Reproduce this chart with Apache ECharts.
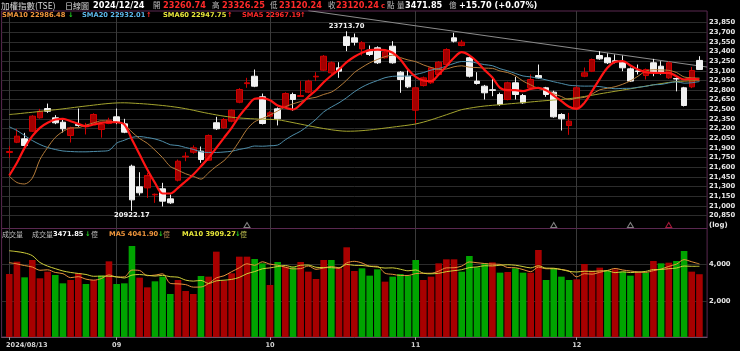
<!DOCTYPE html>
<html><head><meta charset="utf-8">
<script src="https://cdn.jsdelivr.net/npm/echarts@6/dist/echarts.min.js"></script>
<style>html,body{margin:0;padding:0;background:#000;}#c{width:740px;height:351px;}</style>
</head><body><div id="c"></div>
<script>
const dates = [
'2024/08/13','2024/08/14','2024/08/15','2024/08/16','2024/08/19','2024/08/20','2024/08/21','2024/08/22','2024/08/23','2024/08/26','2024/08/27','2024/08/28','2024/08/29','2024/08/30',
'2024/09/02','2024/09/03','2024/09/04','2024/09/05','2024/09/06','2024/09/09','2024/09/10','2024/09/11','2024/09/12','2024/09/13','2024/09/16','2024/09/18','2024/09/19','2024/09/20','2024/09/23','2024/09/24','2024/09/25','2024/09/26','2024/09/27','2024/09/30',
'2024/10/01','2024/10/04','2024/10/07','2024/10/08','2024/10/09','2024/10/11','2024/10/14','2024/10/15','2024/10/16','2024/10/17','2024/10/18','2024/10/21','2024/10/22','2024/10/23','2024/10/24','2024/10/25','2024/10/28','2024/10/29','2024/10/30',
'2024/11/01','2024/11/04','2024/11/05','2024/11/06','2024/11/07','2024/11/08','2024/11/11','2024/11/12','2024/11/13','2024/11/14','2024/11/15','2024/11/18','2024/11/19','2024/11/20','2024/11/21','2024/11/22','2024/11/25','2024/11/26','2024/11/27','2024/11/28','2024/11/29',
'2024/12/02','2024/12/03','2024/12/04','2024/12/05','2024/12/06','2024/12/09','2024/12/10','2024/12/11','2024/12/12','2024/12/13','2024/12/16','2024/12/17','2024/12/18','2024/12/19','2024/12/20','2024/12/23','2024/12/24'];

const opens = [21830,21989,22042,22160,22369,22513,22369,22300,22094,22265,
 22230,22291,22188,22280,22384,22275,21616,21296,21280,21170,
 21265,21109,21399,21760,21834,21850,21710,22292,22213,22316,
 22611,22900,23015,22695,22394,22508,22549,22731,22700,22767,
 23005,23109,23068,23146,23628,23612,23441,23420,23457,23302,
 23482,23078,23015,22487,22870,22913,23042,23197,23612,23493,
 23302,22939,22860,22805,22731,22653,22913,22715,22835,23026,
 22835,22767,22420,22249,22524,23015,23093,23337,23302,23255,
 23233,23130,23098,23026,23224,23171,22990,22980,22835,22850,
 23260.74];
const closes = [21845,22083,21938,22394,22471,22471,22291,22198,22213,22250,
 22245,22420,22265,22331,22300,22145,21093,21203,21472,21180,
 21073,21047,21694,21772,21902,21720,22094,22198,22342,22487,
 22808,22913,22860,22280,22446,22353,22746,22653,22715,22939,
 23015,23326,23224,23093,23493,23544,23535,23353,23224,23389,
 23224,22964,22850,22835,22990,23146,23233,23430,23560,23544,
 23015,22902,22757,22795,22575,22913,22731,22602,22964,22990,
 22731,22384,22353,22316,22835,23068,23275,23285,23224,23245,
 23146,22939,23088,23119,23078,23057,23224,22972,22560,23104.54,
 23120.24];
const lows = [21747,21975,21920,22150,22355,22445,22270,22140,21985,22229,
 22110,22280,22060,22270,22270,22130,20922.17,21161,21124,21047,
 20990,21030,21380,21694,21810,21669,21700,22180,22200,22300,
 22595,22835,22845,22265,22380,22250,22535,22480,22695,22750,
 22939,23095,23050,22990,23405,23493,23337,23330,23205,23290,
 23210,22757,22830,22280,22855,22895,23030,23180,23540,23480,
 22995,22885,22653,22705,22555,22640,22653,22585,22820,22975,
 22695,22370,22171,22104,22510,23000,23080,23270,23205,23215,
 23093,22925,23042,22964,23015,23040,22975,22780,22545,22830,
 23120.24];
const highs = [21927,22198,22135,22410,22508,22590,22410,22342,22230,22513,
 22290,22440,22290,22370,22513,22353,21640,21523,21513,21192,
 21358,21176,21720,21834,21940,21922,22110,22384,22365,22500,
 22830,22990,23119,22746,22470,22530,22765,22760,22939,22960,
 23078,23345,23245,23233,23713.70,23679,23560,23493,23480,23410,
 23560,23095,23109,22850,23010,23160,23250,23450,23690,23580,
 23320,23078,22880,22975,22760,22930,23006,22740,23042,23197,
 22850,22790,22440,22446,22870,23150,23290,23405,23370,23353,
 23337,23150,23197,23135,23285,23249,23245,22995,22850,23160,
 23326.25];

const sma5 = [21472,21669,21902,22083,22213,22291,22342,22353,22316,22275,
 22238,22264,22291,22300,22300,22264,22031,21798,21565,21358,
 21192,21192,21280,21383,21487,21616,21747,21902,22058,22213,
 22394,22540,22664,22675,22640,22560,22525,22498,22578,22695,
 22798,22922,23026,23119,23233,23317,23379,23420,23430,23420,
 23379,23275,23119,23006,22948,22938,23042,23171,23302,23389,
 23340,23240,23110,22995,22835,22800,22798,22783,22819,22835,
 22798,22715,22627,22540,22508,22601,22783,22975,23146,23239,
 23249,23182,23119,23078,23068,23068,23068,23015,22964,22975,
 22967.19];
const sma10 = [21461,21363,21340,21430,21720,21907,22063,22156,22210,22215,
 22255,22289,22322,22316,22299,22266,22147,22047,21973,21866,
 21749,21612,21555,21499,21459,21416,21516,21615,21702,21833,
 22006,22190,22307,22358,22412,22475,22540,22586,22622,22667,
 22688,22732,22768,22849,22954,23073,23153,23223,23275,23320,
 23341,23305,23268,23242,23191,23152,23121,23128,23162,23177,
 23156,23150,23141,23137,23096,23072,23022,22939,22880,22824,
 22796,22742,22700,22649,22673,22686,22738,22804,22828,22852,
 22891,22944,23016,23095,23116,23113,23106,23073,23003,22991,
 22986.48];
const sma20 = [22229,22171,22094,22016,21954,21907,21876,21853,21845,21840,
 21840,21845,21850,21862,21975,22020,22065,22078,22062,22040,
 22002,21950,21938,21907,21878,21840,21830,21830,21837,21849,
 21877,21900,21930,21927,21934,21945,22027,22100,22161,22249,
 22346,22460,22536,22602,22682,22773,22846,22903,22947,22992,
 23013,23017,23017,23044,23071,23111,23134,23172,23214,23243,
 23242,23219,23195,23179,23132,23099,23058,23019,23005,22984,
 22959,22929,22903,22875,22866,22861,22862,22854,22836,22820,
 22826,22827,22843,22858,22882,22887,22911,22928,22907,22914,
 22932.01];
const sma60 = [22420,22430,22443,22455,22468,22482,22494,22508,22523,22538,
 22552,22566,22580,22592,22600,22602,22597,22590,22582,22571,
 22560,22546,22530,22510,22486,22460,22436,22414,22394,22378,
 22366,22358,22352,22347,22344,22338,22318,22294,22270,22246,
 22223,22202,22183,22168,22160,22162,22169,22180,22194,22209,
 22224,22239,22254,22273,22302,22337,22376,22416,22457,22496,
 22518,22537,22552,22563,22573,22584,22594,22604,22615,22626,
 22636,22645,22655,22666,22681,22700,22720,22741,22761,22781,
 22800,22820,22841,22861,22881,22900,22918,22932,22939,22944,
 22947.75];

const volumes = [3484,4165,3300,4258,3246,3613,3429,2968,3152,3521,
 2930,3152,3392,4184,2930,2968,5032,3281,2746,3079,
 3337,2378,3152,2544,2378,3373,3337,4719,3115,3521,
 4442,4442,4313,4073,2875,4147,3889,3853,4147,3613,
 3207,4258,4258,3797,4960,3650,3797,3392,3742,3060,
 3337,3484,3392,4258,3152,3337,4073,4295,4295,3613,
 4479,3853,4073,4129,3558,3594,3797,3558,3558,4811,
 3152,3797,3337,3152,3189,4036,3668,3834,3668,3742,
 3613,3392,3576,3558,4203,4073,4110,4203,4756,3613,
 3471.85];
const volDir = ('rrgrrrggrr' + 'grgrgggrrg' + 'ggrrrgrrrr' + 'rrggrgrgrr' + 'rrgrrrgggr' +
 'ggggrrrrrg' + 'gggrgrggrr' + 'ggggrrrrgr' + 'ggrgrgrggr' + 'r').split('');
const volMa5 = [4110,4040,3950,3870,3691,3716,3569,3503,3282,3337,
 3200,3145,3229,3436,3318,3325,3701,3679,3391,3421,
 3495,2964,2938,2898,2758,2765,2957,3270,3384,3613,
 3827,4048,3967,4158,4029,3970,3859,3767,3782,3930,
 3742,3816,3897,3827,4096,4185,4092,3919,3908,3528,
 3466,3403,3403,3506,3525,3525,3642,3823,3830,3923,
 4151,4107,4063,4029,4018,3841,3830,3727,3613,3864,
 3775,3775,3731,3650,3325,3502,3476,3576,3679,3790,
 3705,3650,3598,3576,3668,3760,3904,4029,4278,4160,
 4041.90];
const volMa10 = [4770,4720,4650,4500,4120,3920,3780,3650,3570,3514,
 3458,3357,3366,3359,3327,3263,3423,3454,3414,3369,
 3410,3333,3309,3145,3090,3130,2961,3104,3141,3185,
 3296,3502,3618,3771,3821,3898,3954,3867,3970,3979,
 3856,3838,3832,3804,4013,3963,3954,3908,3867,3812,
 3825,3748,3661,3707,3526,3495,3523,3613,3668,3724,
 3838,3875,3943,3930,3971,3996,3969,3895,3821,3941,
 3808,3803,3729,3631,3595,3639,3626,3653,3664,3558,
 3604,3563,3587,3628,3729,3733,3777,3814,3923,3910,
 3909.27];

const priceTicks = [20850,21000,21150,21300,21450,21600,21750,21900,22050,22200,22350,22500,22650,22800,22950,23100,23250,23400,23550,23700,23850];
const volTicks = [2000,4000];
const monthStartIdx = [0,14,34,53,74];
const monthLabels = ['2024/08/13','09','10','11','12'];
const trendPts = [[39,24035],[91,23158]];
const eventIdx = [31,71,81,86];
const eventColors = ['#a0a0a0','#a0a0a0','#a0a0a0','#d0204a'];

// ---- build ----
const cats = [''].concat(dates, ['']);
const pad = a => ['-'].concat(a, ['-']);
const candles = dates.map((d,i)=>[opens[i], closes[i], lows[i], highs[i]]);
const labelMap = new Map(monthStartIdx.map((d,k)=>[d+1, monthLabels[k]]));
const showAt = (i) => labelMap.has(i);
const NUM = 'DejaVu Sans';
const CJK = '"Noto Sans CJK TC"';
const volData = volumes.map((v,i)=>({value:v, itemStyle:{color: volDir[i]==='r' ? '#a80000' : '#00a400'}}));

function seg(x, y, text, fill, size, family, bold) {
  return {type:'text', x:x, y:y, silent:true, z:100,
    style:{text:text, fill:fill, font:(bold?'bold ':'')+size+'px '+family,
      verticalAlign:'middle', textVerticalAlign:'middle', align:'left', textAlign:'left'}};
}
const RED='#ff2a2a', GRN='#22cc22', GRY='#bdbdbd';
const graphics = [
  seg(1,5.5,'加權指數(TSE)','#d8d8d8',8.5,CJK,false),
  seg(65,5.5,'日線圖','#d8d8d8',8,CJK,false),
  seg(93,5.5,'2024/12/24','#ffffff',8.2,NUM,true),
  seg(153,5.5,'開',GRY,7.5,CJK,false),
  seg(163,5.5,'23260.74',RED,8.2,NUM,true),
  seg(212,5.5,'高',GRY,7.5,CJK,false),
  seg(222,5.5,'23326.25',RED,8.2,NUM,true),
  seg(270,5.5,'低',GRY,7.5,CJK,false),
  seg(279,5.5,'23120.24',RED,8.2,NUM,true),
  seg(328,5.5,'收',GRY,7.5,CJK,false),
  seg(336,5.5,'23120.24',RED,8.2,NUM,true),
  seg(381,6,'c',RED,7,NUM,true),
  seg(387,5.5,'點',GRY,7.5,CJK,false),
  seg(397,5.5,'量',GRY,7.5,CJK,false),
  seg(405,5.5,'3471.85','#ffffff',8.2,NUM,true),
  seg(449,5.5,'億',GRY,7.5,CJK,false),
  seg(459,5.5,'+15.70 (+0.07%)','#ffffff',8.2,NUM,true),

  seg(2,15.7,'SMA10 22986.48','#f0963c',6.7,NUM,true),
  seg(68,15.7,'↓',GRN,6.7,NUM,true),
  seg(82,15.7,'SMA20 22932.01','#5cb8ea',6.7,NUM,true),
  seg(146,15.7,'↑',RED,6.7,NUM,true),
  seg(163,15.7,'SMA60 22947.75','#e8e83a',6.7,NUM,true),
  seg(227,15.7,'↑',RED,6.7,NUM,true),
  seg(242,15.7,'SMA5 22967.19',RED,6.7,NUM,true),
  seg(300,15.7,'↑',RED,6.7,NUM,true),

  seg(2,234,'成交量',GRY,7,CJK,false),
  seg(32,234,'成交量',GRY,7,CJK,false),
  seg(53,234,'3471.85','#ffffff',6.7,NUM,true),
  seg(85,234,'↓',GRN,6.7,NUM,true),
  seg(91,234,'億',GRY,7,CJK,false),
  seg(109,234,'MA5 4041.90','#f0963c',6.7,NUM,true),
  seg(158,234,'↓',GRN,6.7,NUM,true),
  seg(163,234,'億','#c08a50',7,CJK,false),
  seg(182,234,'MA10 3909.27','#e8e83a',6.7,NUM,true),
  seg(235,234,'↓',GRN,6.7,NUM,true),
  seg(240,234,'億','#c0c050',7,CJK,false),

  seg(709,225,'(log)','#e6e6e6',7,NUM,true)
];

const lineS = (name, data, color, width, x, y, smooth, z) => ({
  name, type:'line', xAxisIndex:x, yAxisIndex:y, data: pad(data), showSymbol:false, symbol:'none',
  smooth: smooth, lineStyle:{color, width}, itemStyle:{color}, z: z, silent:true, emphasis:{disabled:true}
});

const chart = echarts.init(document.getElementById('c'), null, {renderer:'canvas'});
chart.setOption({
  animation:false,
  backgroundColor:'#000000',
  graphic: graphics,
  grid:[
    {left:1.6, top:11, width:705.5, height:217.5, show:true, borderColor:'#5a2850', borderWidth:1, containLabel:false, outerBoundsMode:'none'},
    {left:1.6, top:228.5, width:705.5, height:108.5, show:true, borderColor:'#5a2850', borderWidth:1, containLabel:false, outerBoundsMode:'none'}
  ],
  xAxis:[
    {type:'category', gridIndex:0, data:cats, boundaryGap:false,
      axisLine:{show:false}, axisTick:{show:false}, axisLabel:{show:false},
      splitLine:{show:true, interval:(i)=>showAt(i), lineStyle:{color:'#3a3a3a', width:1}}},
    {type:'category', gridIndex:1, data:cats, boundaryGap:false,
      axisLine:{show:true, lineStyle:{color:'#6a5066', width:1}},
      axisTick:{show:true, interval:(i)=>showAt(i), length:3, lineStyle:{color:'#9a9a9a'}},
      axisLabel:{show:true, interval:(i)=>showAt(i), margin:5, color:'#d4d4d4',
        fontFamily:NUM, fontWeight:'bold', fontSize:6.6,
        formatter:(v,i)=>{ const t = labelMap.get(i) || ''; return i===1 ? '{f|'+t+'}' : '{m|'+t+'}'; },
        rich:{ f:{padding:[0,0,0,35], color:'#d4d4d4', fontFamily:NUM, fontWeight:'bold', fontSize:6.6},
               m:{color:'#d4d4d4', fontFamily:NUM, fontWeight:'bold', fontSize:6.6} }},
      splitLine:{show:true, interval:(i)=>showAt(i), lineStyle:{color:'#3a3a3a', width:1}}}
  ],
  yAxis:[
    {type:'value', gridIndex:0, position:'right', min:20648, max:24029, scale:true,
      axisLine:{show:false}, axisTick:{show:false, customValues:priceTicks},
      axisLabel:{customValues:priceTicks, margin:2, color:'#e6e6e6', fontFamily:NUM, fontWeight:'bold', fontSize:6.8},
      splitLine:{show:true, lineStyle:{color:'#2c2c2c', width:1}}},
    {type:'value', gridIndex:1, position:'right', min:0, max:6000,
      axisLine:{show:false}, axisTick:{show:false, customValues:volTicks},
      axisLabel:{customValues:volTicks, margin:2, color:'#e6e6e6', fontFamily:NUM, fontWeight:'bold', fontSize:6.8},
      splitLine:{show:true, lineStyle:{color:'#2c2c2c', width:1}}}
  ],
  series:[
    {name:'trend', type:'line', xAxisIndex:0, yAxisIndex:0, data: trendPts.map(p=>[p[0]+1, p[1]]),
      showSymbol:false, symbol:'none', lineStyle:{color:'#8c8c8c', width:1}, z:1, silent:true, clip:true},
    {name:'K', type:'candlestick', xAxisIndex:0, yAxisIndex:0, data: pad(candles), barWidth:6, z:2, silent:true,
      itemStyle:{color:'#a30000', color0:'#f2f2f2', borderColor:'#d00000', borderColor0:'#f2f2f2', borderWidth:1},
      markPoint:{symbol:'circle', symbolSize:0.5, itemStyle:{color:'rgba(0,0,0,0)'}, silent:true,
        label:{show:true, color:'#f0f0f0', fontFamily:NUM, fontWeight:'bold', fontSize:6.8,
          formatter:(p)=>Number(p.value).toFixed(2)},
        data:[
          {type:'max', valueDim:'highest', label:{position:'top', distance:1}},
          {type:'min', valueDim:'lowest', label:{position:'bottom', distance:1}}
        ]}},
    lineS('SMA60', sma60, '#a4a42e', 1, 0, 0, 0.3, 3),
    lineS('SMA20', sma20, '#4e8eaa', 1, 0, 0, 0.3, 3),
    lineS('SMA10', sma10, '#b47c3a', 1, 0, 0, 0.3, 3),
    lineS('SMA5', sma5, '#ff1414', 2.2, 0, 0, 0.35, 4),
    {name:'events', type:'scatter', xAxisIndex:0, yAxisIndex:0, silent:true, z:5,
      data: eventIdx.map((d,k)=>({value:[d+1, 20702], itemStyle:{color:'rgba(0,0,0,0)', borderColor:eventColors[k], borderWidth:1}})),
      symbol:'triangle', symbolSize:[6,5]},
    {name:'VOL', type:'bar', xAxisIndex:1, yAxisIndex:1, data: pad(volData), barWidth:6.6, silent:true, z:2},
    lineS('VMA5', volMa5, '#e8943c', 1, 1, 1, 0.3, 5),
    lineS('VMA10', volMa10, '#d0d03a', 1, 1, 1, 0.3, 5)
  ]
});
</script>
</body></html>
